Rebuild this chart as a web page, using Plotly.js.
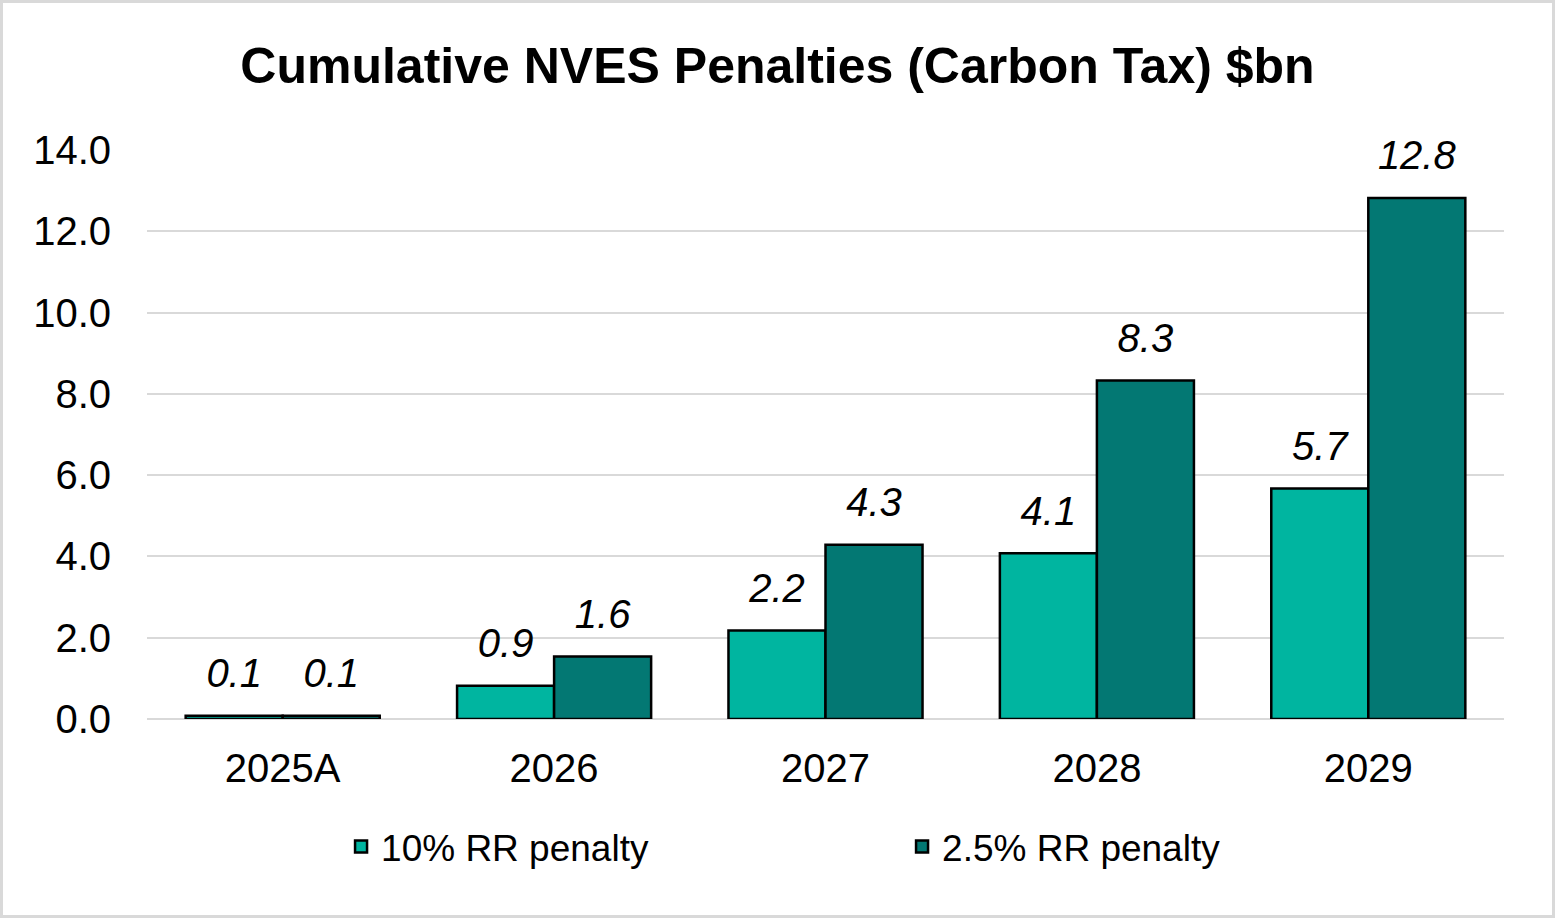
<!DOCTYPE html>
<html>
<head>
<meta charset="utf-8">
<script src="https://cdn.plot.ly/plotly-3.0.1.min.js"></script>
<style>
  body { margin: 0; background: #fff; }
  #wrap { position: relative; width: 1555px; height: 918px; }
  #frame { position: absolute; left: 0; top: 0; width: 1555px; height: 918px;
           border: 3px solid #D9D9D9; box-sizing: border-box; pointer-events: none; }
</style>
</head>
<body>
<div id="wrap">
  <div id="chart"></div>
  <div id="frame"></div>
</div>
<script>
// data
var years = ['2025A', '2026', '2027', '2028', '2029'];
var rr10Value = [0.08, 0.82, 2.18, 4.08, 5.67];
var rr10Label = ['0.1', '0.9', '2.2', '4.1', '5.7'];
var rr25Value = [0.08, 1.54, 4.29, 8.33, 12.82];
var rr25Label = ['0.1', '1.6', '4.3', '8.3', '12.8'];
var yTicks = [0, 2, 4, 6, 8, 10, 12, 14];

var FONT = '"Liberation Sans", Arial, sans-serif';
var light = '#00B5A0';
var dark = '#037873';

var trace1 = {
  x: years,
  y: rr10Value,
  type: 'bar',
  name: '10% RR penalty',
  hoverinfo: 'none',
  marker: { color: light, line: { color: '#000000', width: 2.5 } }
};
var trace2 = {
  x: years,
  y: rr25Value,
  type: 'bar',
  name: '2.5% RR penalty',
  hoverinfo: 'none',
  marker: { color: dark, line: { color: '#000000', width: 2.5 } }
};

// value labels: invisible markers give the gap above the bar tops
function labels(vals, txt) {
  return {
    x: years,
    y: vals,
    type: 'scatter',
    mode: 'markers+text',
    text: txt,
    textposition: 'top center',
    textfont: { family: FONT, size: 40, color: '#000000', style: 'italic' },
    marker: { size: 28, opacity: 0 },
    cliponaxis: false,
    showlegend: false,
    hoverinfo: 'none'
  };
}

var data = [trace1, trace2, labels(rr10Value, rr10Label), labels(rr25Value, rr25Label)];

var layout = {
  width: 1555,
  height: 918,
  margin: { t: 150, b: 199, l: 147, r: 51, autoexpand: false },
  paper_bgcolor: '#ffffff',
  plot_bgcolor: '#ffffff',
  font: { family: FONT, size: 40, color: '#000000' },
  title: {
    text: '<b>Cumulative NVES Penalties (Carbon Tax) $bn</b>',
    font: { family: FONT, size: 50, color: '#000000' },
    x: 0.5,
    xanchor: 'center',
    y: 1 - 65 / 918,
    yanchor: 'middle',
    yref: 'container'
  },
  barmode: 'group',
  bargap: 0.285,
  bargroupgap: 0,
  scattermode: 'group',
  scattergap: 0.285,
  showlegend: true,
  legend: {
    orientation: 'h',
    x: 0.143,
    xanchor: 'left',
    y: -0.225,
    yanchor: 'middle',
    entrywidth: 516,
    entrywidthmode: 'pixels',
    font: { family: FONT, size: 37, color: '#000000' }
  },
  xaxis: {
    type: 'category',
    showgrid: false,
    zeroline: false,
    showline: false,
    ticks: '',
    ticklabelstandoff: 22,
    tickfont: { family: FONT, size: 40, color: '#000000' }
  },
  yaxis: {
    range: [0, 14],
    tickvals: yTicks,
    tickformat: '.1f',
    showgrid: true,
    gridcolor: '#D9D9D9',
    gridwidth: 2,
    zeroline: true,
    zerolinecolor: '#D9D9D9',
    zerolinewidth: 2,
    showline: false,
    ticks: '',
    ticklabelstandoff: 35,
    tickfont: { family: FONT, size: 40, color: '#000000' }
  }
};

var config = { responsive: false, displayModeBar: false, staticPlot: true };

Plotly.newPlot('chart', data, layout, config);
</script>
</body>
</html>
